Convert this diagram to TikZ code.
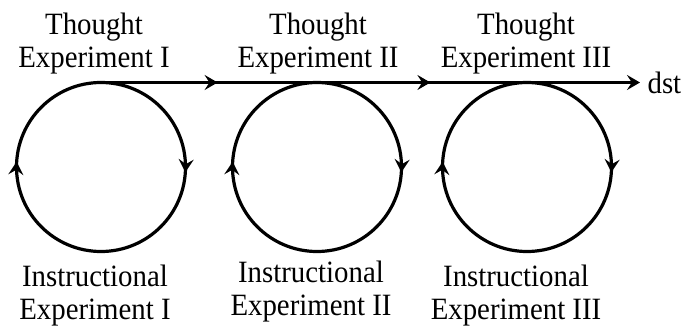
\documentclass[tikz,border=0pt]{standalone}
\usepackage{fontspec}
\setmainfont{Liberation Serif}[FakeStretch=0.93]
\usetikzlibrary{arrows.meta, decorations.markings}

\begin{document}
\begin{tikzpicture}[x=0.5pt, y=0.5pt, line width=1.6pt,
  font=\fontsize{15.5}{16.5}\selectfont,
  tip/.style={-{Stealth[length=6.5pt, width=7.5pt, inset=2.4pt]}},
  lbl/.style={align=center, inner sep=0pt},
  cycle arrows/.style={postaction=decorate, decoration={markings,
    mark=at position 0.26 with {\arrow{Stealth[length=6.5pt, width=7.5pt, inset=2.4pt]}},
    mark=at position 0.76 with {\arrow{Stealth[length=6.5pt, width=7.5pt, inset=2.4pt]}}}},
  mid arrow/.style={postaction=decorate, decoration={markings,
    mark=at position 0.54 with {\arrow{Stealth[length=6.5pt, width=7.5pt, inset=2.4pt]}}}}]
\useasboundingbox (0,0) rectangle (690,327);

% circle centres and their tops
\coordinate (c1) at (101,160);
\coordinate (c2) at (317,160);
\coordinate (c3) at (527,160);
\coordinate (t1) at (101,244.5);
\coordinate (t2) at (317,244.5);
\coordinate (t3) at (527,244.5);

% thought experiments
\node[lbl] (th1) at (94,283) {Thought\\Experiment I};
\node[lbl] (th2) at (318,283) {Thought\\Experiment II};
\node[lbl] (th3) at (526,283) {Thought\\Experiment III};

% instructional experiments
\node[lbl] (in1) at (95,31) {Instructional\\Experiment I};
\node[lbl] (in2) at (311,35) {Instructional\\Experiment II};
\node[lbl] (in3) at (516,31) {Instructional\\Experiment III};

\node[anchor=west, inner sep=3pt] (dst) at (640,244.5) {dst};

% cycles
\draw[cycle arrows] (t1) arc[start angle=90, end angle=-270, radius=84.5];
\draw[cycle arrows] (t2) arc[start angle=90, end angle=-270, radius=84.5];
\draw[cycle arrows] (t3) arc[start angle=90, end angle=-270, radius=84.5];

% time line
\draw[mid arrow] (t1) -- (t2);
\draw[mid arrow] (t2) -- (t3);
\draw[tip] (t3) -- (dst.west);
\end{tikzpicture}
\end{document}
